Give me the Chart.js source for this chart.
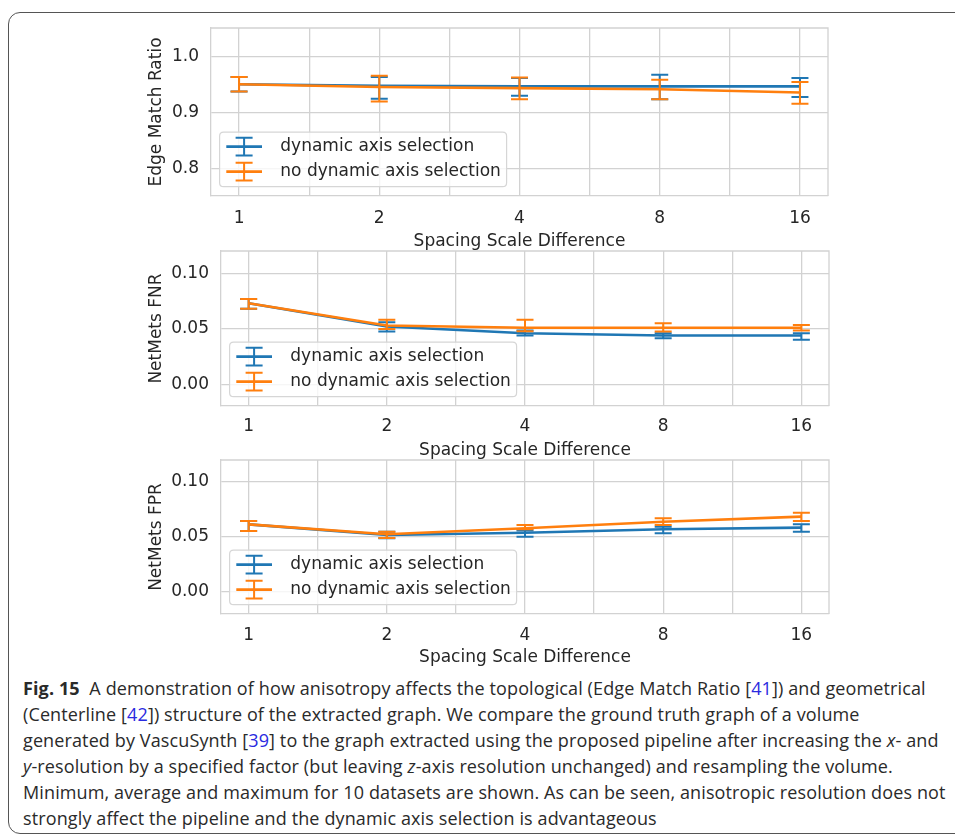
<!DOCTYPE html>
<html><head><meta charset="utf-8">
<script src="https://cdn.jsdelivr.net/npm/chart.js@4.4.0/dist/chart.umd.min.js"></script>
<style>
html,body{margin:0;padding:0;background:#fff;width:955px;height:837px;overflow:hidden;position:relative;}
#card{position:absolute;left:8px;top:12px;width:1000px;height:822px;border:1.5px solid #555;border-radius:12px;box-sizing:border-box;}
canvas{position:absolute;}
#cap{position:absolute;left:23px;top:675px;font-family:"Open Sans";font-size:18px;letter-spacing:0.12px;line-height:26px;color:#2a2a2a;white-space:nowrap;}
#cap a{color:#2a2ae0;text-decoration:none;}
</style></head><body>
<div id="card"></div>
<canvas id="c1" width="730" height="236" style="left:130px;top:18px"></canvas>
<canvas id="c2" width="730" height="217" style="left:130px;top:244px"></canvas>
<canvas id="c3" width="730" height="222" style="left:130px;top:452px"></canvas>
<div id="cap">
<div><b>Fig. 15</b>&nbsp;&nbsp;A demonstration of how anisotropy affects the topological (Edge Match Ratio [<a>41</a>]) and geometrical</div>
<div>(Centerline [<a>42</a>]) structure of the extracted graph. We compare the ground truth graph of a volume</div>
<div>generated by VascuSynth [<a>39</a>] to the graph extracted using the proposed pipeline after increasing the <i>x</i>- and</div>
<div><i>y</i>-resolution by a specified factor (but leaving <i>z</i>-axis resolution unchanged) and resampling the volume.</div>
<div>Minimum, average and maximum for 10 datasets are shown. As can be seen, anisotropic resolution does not</div>
<div>strongly affect the pipeline and the dynamic axis selection is advantageous</div>
</div>
<script>
// ---- data ----
const categories = ['1', '2', '4', '8', '16'];
const seriesNames = ['dynamic axis selection', 'no dynamic axis selection'];
const xAxisTitle = 'Spacing Scale Difference';

// Edge Match Ratio
const emrDynMean = [0.951, 0.948, 0.947, 0.947, 0.947];
const emrDynMin  = [0.938, 0.925, 0.930, 0.924, 0.928];
const emrDynMax  = [0.964, 0.964, 0.962, 0.968, 0.962];
const emrNoMean  = [0.951, 0.946, 0.944, 0.942, 0.936];
const emrNoMin   = [0.938, 0.920, 0.924, 0.924, 0.916];
const emrNoMax   = [0.964, 0.966, 0.963, 0.959, 0.955];

// NetMets FNR
const fnrDynMean = [0.0732, 0.0523, 0.0462, 0.0441, 0.0441];
const fnrDynMin  = [0.0682, 0.0477, 0.0441, 0.0417, 0.0402];
const fnrDynMax  = [0.0772, 0.0560, 0.0486, 0.0462, 0.0462];
const fnrNoMean  = [0.0732, 0.0532, 0.0511, 0.0511, 0.0511];
const fnrNoMin   = [0.0682, 0.0500, 0.0480, 0.0477, 0.0486];
const fnrNoMax   = [0.0772, 0.0583, 0.0583, 0.0552, 0.0537];

// NetMets FPR
const fprDynMean = [0.0615, 0.0518, 0.0539, 0.0570, 0.0585];
const fprDynMin  = [0.0555, 0.0488, 0.0503, 0.0534, 0.0548];
const fprDynMax  = [0.0645, 0.0548, 0.0560, 0.0594, 0.0615];
const fprNoMean  = [0.0615, 0.0525, 0.0579, 0.0639, 0.0685];
const fprNoMin   = [0.0555, 0.0490, 0.0570, 0.0609, 0.0645];
const fprNoMax   = [0.0645, 0.0548, 0.0609, 0.0670, 0.0721];

// ---- style ----
const BLUE = '#1f77b4', ORANGE = '#ff7f0e';
const GRID = '#d2d2d2', TEXT = '#262626';
const FONT = 'DejaVu Sans';

function pts(arr){ return arr.map((v,i)=>({x:i,y:v})); }

const chromePlugin = {
  id: 'chrome',
  afterDatasetDraw(chart, args){
    const ds = chart.data.datasets[args.index];
    const ctx = chart.ctx, xs = chart.scales.x, ys = chart.scales.y;
    ctx.save();
    ctx.strokeStyle = ds.borderColor;
    ctx.lineWidth = 2;
    ds.errMin.forEach((lo,i)=>{
      const hi = ds.errMax[i];
      const px = xs.getPixelForValue(i);
      const y1 = ys.getPixelForValue(lo), y2 = ys.getPixelForValue(hi);
      ctx.beginPath();
      ctx.moveTo(px,y1); ctx.lineTo(px,y2);
      ctx.moveTo(px-8.5,y1); ctx.lineTo(px+8.5,y1);
      ctx.moveTo(px-8.5,y2); ctx.lineTo(px+8.5,y2);
      ctx.stroke();
    });
    ctx.restore();
  },
  afterDraw(chart){
    const ctx = chart.ctx, a = chart.chartArea;
    ctx.save();
    // top & right spines
    ctx.strokeStyle = GRID; ctx.lineWidth = 1.3;
    ctx.beginPath();
    ctx.moveTo(a.left, a.top); ctx.lineTo(a.right, a.top); ctx.lineTo(a.right, a.bottom);
    ctx.stroke();
    // legend
    const bw = 287, bh = 54.5;
    const bx = a.left + 8.6, by = a.bottom - 9.3 - bh;
    const r = 4;
    ctx.beginPath();
    ctx.moveTo(bx+r,by); ctx.lineTo(bx+bw-r,by); ctx.quadraticCurveTo(bx+bw,by,bx+bw,by+r);
    ctx.lineTo(bx+bw,by+bh-r); ctx.quadraticCurveTo(bx+bw,by+bh,bx+bw-r,by+bh);
    ctx.lineTo(bx+r,by+bh); ctx.quadraticCurveTo(bx,by+bh,bx,by+bh-r);
    ctx.lineTo(bx,by+r); ctx.quadraticCurveTo(bx,by,bx+r,by);
    ctx.closePath();
    ctx.fillStyle = 'rgba(255,255,255,0.8)'; ctx.fill();
    ctx.strokeStyle = '#d6d6d6'; ctx.lineWidth = 1.2; ctx.stroke();
    chart.data.datasets.forEach((ds,k)=>{
      const ry = by + 14.4 + 25*k;
      const cx = bx + 24.5;
      ctx.strokeStyle = ds.borderColor;
      ctx.lineWidth = 2.6;
      ctx.beginPath(); ctx.moveTo(bx+6.7,ry); ctx.lineTo(bx+42.4,ry); ctx.stroke();
      ctx.lineWidth = 2;
      ctx.beginPath();
      ctx.moveTo(cx,ry-8.8); ctx.lineTo(cx,ry+8.8);
      ctx.moveTo(cx-8.5,ry-8.8); ctx.lineTo(cx+8.5,ry-8.8);
      ctx.moveTo(cx-8.5,ry+8.8); ctx.lineTo(cx+8.5,ry+8.8);
      ctx.stroke();
      ctx.fillStyle = TEXT; ctx.font = '17px "' + FONT + '"';
      ctx.textBaseline = 'middle'; ctx.textAlign = 'left';
      ctx.fillText(ds.label, bx + 60.7, ry);
    });
    ctx.restore();
  }
};

function makeChart(id, opts){
  const datasets = [
    {label: seriesNames[0], data: pts(opts.dynMean), errMin: opts.dynMin, errMax: opts.dynMax,
     borderColor: BLUE, backgroundColor: BLUE, borderWidth: 2.6, pointRadius: 0, order: 1},
    {label: seriesNames[1], data: pts(opts.noMean), errMin: opts.noMin, errMax: opts.noMax,
     borderColor: ORANGE, backgroundColor: ORANGE, borderWidth: 2.6, pointRadius: 0, order: 0}
  ];
  return new Chart(document.getElementById(id), {
    type: 'line',
    data: {datasets},
    plugins: [chromePlugin],
    options: {
      responsive: false, animation: false, devicePixelRatio: 1,
      layout: {autoPadding: false, padding: opts.padding},
      plugins: {legend: {display: false}, tooltip: {enabled: false}},
      elements: {line: {tension: 0, borderCapStyle: 'butt'}},
      scales: {
        x: {
          type: 'linear', min: -0.2, max: 4.2,
          afterFit(s){ s.height = opts.xHeight; s.paddingLeft = 0; s.paddingRight = 0; },
          border: {color: GRID, width: 1.3},
          grid: {color: GRID, lineWidth: 1.3, drawTicks: false},
          ticks: {stepSize: 0.5, includeBounds: false, autoSkip: false, maxRotation: 0, padding: opts.xTickPad,
                  color: TEXT, font: {family: FONT, size: 17},
                  callback: v => (Number.isInteger(v) && categories[v] !== undefined) ? categories[v] : ''},
          title: {display: true, text: xAxisTitle, color: TEXT, font: {family: FONT, size: 17}, padding: {top: 0, bottom: 0}}
        },
        y: {
          min: opts.yMin, max: opts.yMax,
          afterFit(s){ s.width = opts.yWidth; s.paddingTop = 0; s.paddingBottom = 0; },
          border: {color: GRID, width: 1.3},
          grid: {color: GRID, lineWidth: 1.3, drawTicks: false},
          ticks: {stepSize: opts.yStep, includeBounds: false, padding: 12, color: TEXT,
                  font: {family: FONT, size: 17}, callback: v => v.toFixed(opts.dec)},
          title: {display: true, text: opts.yTitle, color: TEXT, font: {family: FONT, size: 17}, padding: {top: 16, bottom: 0}}
        }
      }
    }
  });
}

makeChart('c1', {dynMean: emrDynMean, dynMin: emrDynMin, dynMax: emrDynMax,
  noMean: emrNoMean, noMin: emrNoMin, noMax: emrNoMax,
  yMin: 0.75, yMax: 1.052, yStep: 0.1, dec: 1, yTitle: 'Edge Match Ratio', yWidth: 81,
  xHeight: 56, xTickPad: 12,
  padding: {left: 0, top: 10, right: 32, bottom: 2}});
makeChart('c2', {dynMean: fnrDynMean, dynMin: fnrDynMin, dynMax: fnrDynMax,
  noMean: fnrNoMean, noMin: fnrNoMin, noMax: fnrNoMax,
  yMin: -0.0196, yMax: 0.1205, yStep: 0.05, dec: 2, yTitle: 'NetMets FNR', yWidth: 91,
  xHeight: 55, xTickPad: 10,
  padding: {left: 0, top: 7, right: 31, bottom: 0}});
makeChart('c3', {dynMean: fprDynMean, dynMin: fprDynMin, dynMax: fprDynMax,
  noMean: fprNoMean, noMin: fprNoMin, noMax: fprNoMax,
  yMin: -0.02, yMax: 0.12, yStep: 0.05, dec: 2, yTitle: 'NetMets FPR', yWidth: 91,
  xHeight: 54, xTickPad: 11,
  padding: {left: 0, top: 8, right: 31, bottom: 6}});
</script>
</body></html>
